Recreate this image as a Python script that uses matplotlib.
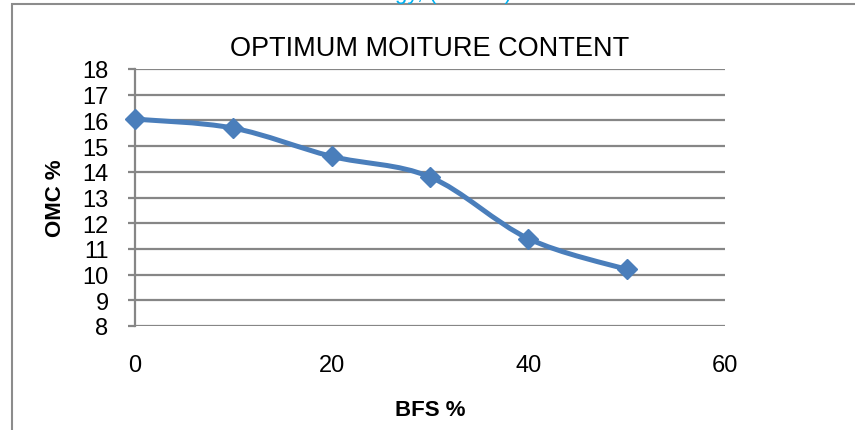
import numpy as np
import matplotlib
matplotlib.use("Agg")
import matplotlib.pyplot as plt
from matplotlib.path import Path
from matplotlib.patches import PathPatch, Rectangle

# data
bfs = [0, 10, 20, 30, 40, 50]
omc = [16.05, 15.7, 14.6, 13.8, 11.4, 10.2]

xticks = [0, 20, 40, 60]
yticks = list(range(8, 19))

title = "OPTIMUM MOITURE CONTENT"
xlabel = "BFS %"
ylabel = "OMC %"

plt.rcParams["font.family"] = ["Liberation Sans", "DejaVu Sans"]

line_col = "#4A7EBB"
grid_col = "#868686"

W, H = 855, 431
fig = plt.figure(figsize=(W / 100, H / 100), dpi=100)

# chart frame (left and top edges visible)
fig.add_artist(Rectangle((12 / W, -0.1), 1.2, (H - 5) / H + 0.1,
                         transform=fig.transFigure, fill=False,
                         edgecolor="#8c8c8c", linewidth=1.5))

# clipped header text from the page above the chart
fig.text(395 / W, (H + 1) / H, "gy, (IJCIET)", color="#00B0F0",
         fontsize=16, va="baseline", ha="left")

ax = fig.add_axes([135 / W, 1 - 327 / H, (725 - 135) / W, (327 - 70) / H])

# smoothed line via cubic bezier segments
pts = np.column_stack([bfs, omc])
n = len(pts)
verts = [tuple(pts[0])]
codes = [Path.MOVETO]
for i in range(n - 1):
    p0 = pts[max(i - 1, 0)]
    p1 = pts[i]
    p2 = pts[i + 1]
    p3 = pts[min(i + 2, n - 1)]
    c1 = p1 + (p2 - p0) / 6.0
    c2 = p2 - (p3 - p1) / 6.0
    verts += [tuple(c1), tuple(c2), tuple(p2)]
    codes += [Path.CURVE4] * 3
ax.add_patch(PathPatch(Path(verts, codes), facecolor="none",
                       edgecolor=line_col, linewidth=3.6,
                       capstyle="round", joinstyle="round", zorder=3))
ax.plot(bfs, omc, linestyle="none", marker="D", markersize=10,
        color=line_col, zorder=4, clip_on=False)

ax.set_xlim(0, 60)
ax.set_ylim(8, 18)
ax.set_xticks(xticks)
ax.set_yticks(yticks)
for y in yticks:
    ax.axhline(y, color=grid_col, linewidth=1.6, zorder=1)

for s in ["top", "right", "bottom"]:
    ax.spines[s].set_visible(False)
ax.spines["left"].set_color(grid_col)
ax.spines["left"].set_linewidth(1.6)

ax.tick_params(axis="y", length=5, width=1.6, color=grid_col,
               labelsize=17, pad=14)
ax.tick_params(axis="x", length=0, labelsize=17, pad=20)

ax.set_title(title, fontsize=19.5, pad=10)
ax.set_xlabel(xlabel, fontsize=16, fontweight="bold", labelpad=17)
ax.set_ylabel(ylabel, fontsize=16, fontweight="bold", labelpad=12)

fig.savefig("out.png", dpi=100)
